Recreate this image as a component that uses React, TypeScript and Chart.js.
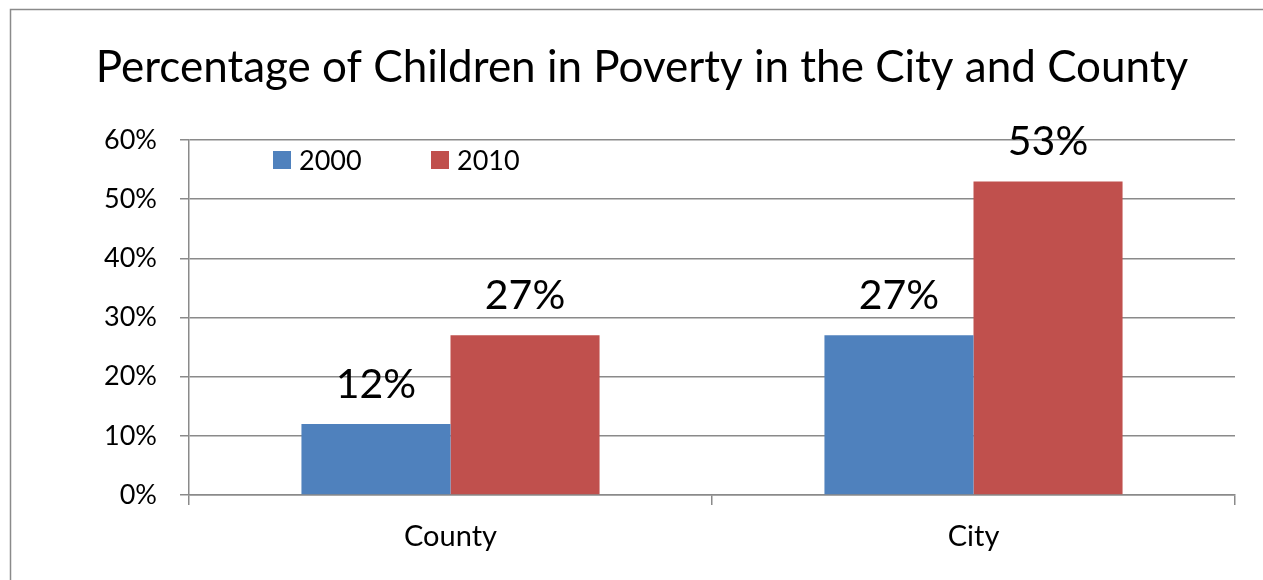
import React, { useEffect, useRef } from "react";
import { Chart, registerables } from "chart.js";

Chart.register(...registerables);

const categories = ["County", "City"];
const seriesNames = ["2000", "2010"];
const values2000 = [12, 27];
const values2010 = [27, 53];
const yTicks = [0, 10, 20, 30, 40, 50, 60];
const titleText = "Percentage of Children in Poverty in the City and County";

const FONT = "Lato";
const BLUE = "#4F81BD";
const RED = "#C0504D";
const GRID = "#8a8a8a";

const framePlugin = {
  id: "frame",
  beforeDraw(chart: any) {
    const ctx = chart.ctx;
    ctx.save();
    ctx.fillStyle = "#ffffff";
    ctx.fillRect(0, 0, chart.width, chart.height);
    ctx.strokeStyle = GRID;
    ctx.lineWidth = 1.5;
    ctx.beginPath();
    ctx.moveTo(10.5, chart.height + 5);
    ctx.lineTo(10.5, 9.5);
    ctx.lineTo(chart.width + 5, 9.5);
    ctx.stroke();
    // title
    ctx.fillStyle = "#000";
    ctx.font = `44px ${FONT}`;
    ctx.textAlign = "center";
    ctx.textBaseline = "alphabetic";
    ctx.fillText(titleText, 642, 82);
    ctx.restore();
  },
};

const labelPlugin = {
  id: "barLabels",
  afterDatasetsDraw(chart: any) {
    const ctx = chart.ctx;
    ctx.save();
    ctx.fillStyle = "#000";
    ctx.font = `41px ${FONT}`;
    ctx.textAlign = "center";
    ctx.textBaseline = "alphabetic";
    chart.data.datasets.forEach((ds: any, i: number) => {
      const meta = chart.getDatasetMeta(i);
      meta.data.forEach((el: any, j: number) => {
        ctx.fillText(`${ds.data[j]}%`, el.x, el.y - 26);
      });
    });
    ctx.restore();
  },
};

const legendPlugin = {
  id: "innerLegend",
  afterDraw(chart: any) {
    const ctx = chart.ctx;
    const area = chart.chartArea;
    ctx.save();
    ctx.font = `27px ${FONT}`;
    ctx.textBaseline = "middle";
    ctx.textAlign = "left";
    chart.data.datasets.forEach((ds: any, i: number) => {
      const x = area.left + 84 + i * 158;
      const yc = area.top + 20;
      ctx.fillStyle = ds.backgroundColor;
      ctx.fillRect(x, yc - 9, 18, 18);
      ctx.fillStyle = "#000";
      ctx.fillText(ds.label, x + 26, yc + 1);
    });
    ctx.restore();
  },
};

export default function App() {
  const ref = useRef<HTMLCanvasElement>(null);
  useEffect(() => {
    if (!ref.current) return;
    const chart = new Chart(ref.current, {
      type: "bar",
      data: {
        labels: categories,
        datasets: [
          { label: seriesNames[0], data: values2000, backgroundColor: BLUE, categoryPercentage: 0.57, barPercentage: 1.0 },
          { label: seriesNames[1], data: values2010, backgroundColor: RED, categoryPercentage: 0.57, barPercentage: 1.0 },
        ],
      },
      options: {
        responsive: false,
        animation: false,
        layout: { padding: { left: 0, top: 140, right: 28, bottom: 0 } },
        plugins: {
          legend: { display: false },
          tooltip: { enabled: false },
          title: { display: false },
        },
        scales: {
          x: {
            type: "category",
            offset: true,
            grid: { display: true, offset: true, drawOnChartArea: false, drawTicks: true, tickLength: 10, color: GRID, lineWidth: 1.5 },
            border: { display: true, color: GRID, width: 1.5 },
            ticks: { color: "#000", font: { family: FONT, size: 29 }, padding: 14 },
            afterFit: (s: any) => { s.height = 85; },
          },
          y: {
            min: yTicks[0],
            max: yTicks[yTicks.length - 1],
            afterBuildTicks: (s: any) => { s.ticks = yTicks.map((v) => ({ value: v })); },
            grid: { color: GRID, lineWidth: 1.5, tickLength: 9, drawTicks: true },
            border: { display: true, color: GRID, width: 1.5 },
            ticks: { color: "#000", font: { family: FONT, size: 27 }, padding: 23, callback: (v: any) => `${v}%` },
            afterFit: (s: any) => { s.width = 189; },
          },
        },
      },
      plugins: [framePlugin, labelPlugin, legendPlugin],
    });
    return () => chart.destroy();
  }, []);
  return (
    <div style={{ position: "fixed", left: 0, top: 0, width: 1263, height: 580, background: "#fff" }}>
      <canvas ref={ref} width={1263} height={580} style={{ display: "block" }} />
    </div>
  );
}
